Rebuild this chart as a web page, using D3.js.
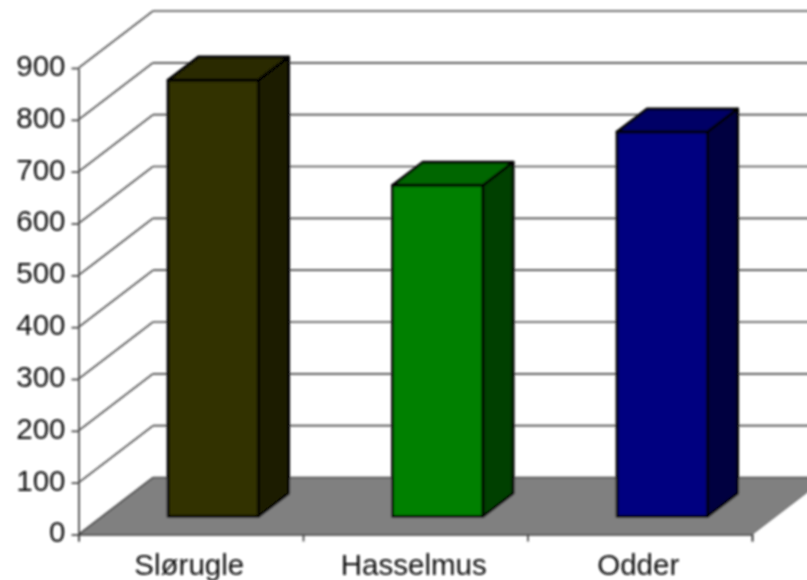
<!DOCTYPE html>
<html><head><meta charset="utf-8">
<script src="https://cdnjs.cloudflare.com/ajax/libs/d3/7.8.5/d3.min.js"></script>
<style>html,body{margin:0;padding:0;background:#fff;overflow:hidden}svg{display:block}</style>
</head><body><svg id="c" width="807" height="580"></svg>
<script>
const categories = ["Slørugle","Hasselmus","Odder"];
const values = [842,639,742];
const yTicks = [0,100,200,300,400,500,600,700,800,900];
const frontColors = ["#333300","#008000","#000080"];
const topColors = ["#292900","#006600","#000066"];
const sideColors = ["#1a1a00","#004000","#000040"];

const svg = d3.select("#c");
const defs = svg.append("defs");
defs.append("filter").attr("id","soft").attr("filterUnits","userSpaceOnUse")
  .attr("x",0).attr("y",0).attr("width",807).attr("height",580)
  .append("feGaussianBlur").attr("stdDeviation",0.8);
const root = svg.append("g").attr("filter","url(#soft)");

const x = d3.scaleBand().domain(categories).range([78.5,752]);
const y = d3.scaleLinear().domain([0,900]).range([534.5,68]);
const depthX = 74.5, depthY = -57;         // full floor depth
const barDepth = [0.316, 0.72];            // bar's front and back, as fractions of the depth
const barW = 90.5;
const line = d3.line();

// floor
root.append("path")
  .attr("d", line([[x.range()[0],y(0)],[x.range()[0]+depthX,y(0)+depthY],[x.range()[1]+depthX,y(0)+depthY],[x.range()[1],y(0)]])+"Z")
  .attr("fill","#808080").attr("stroke","#606060").attr("stroke-width",1);

// gridlines on side and back wall
const side = root.append("g").attr("fill","none").attr("stroke","#202020").attr("stroke-width",1.3);
const back = root.append("g").attr("fill","none").attr("stroke","#484848").attr("stroke-width",1.6);
yTicks.forEach(t=>{
  const x0=x.range()[0];
  side.append("path").attr("d", line([[x0,y(t)],[x0+depthX,y(t)+depthY]]));
  back.append("path").attr("d", line([[x0+depthX,y(t)+depthY],[x.range()[1]+depthX,y(t)+depthY]]));
});

// axes
const axisL = d3.axisLeft(y).tickValues(yTicks).tickSize(7).tickPadding(6).tickSizeOuter(0);
const gy = root.append("g").attr("transform",`translate(${x.range()[0]},0)`).call(axisL);
const xTickScale = d3.scaleLinear().domain([0,3]).range(x.range());
const axisB = d3.axisBottom(xTickScale).tickValues([0,1,2,3]).tickSize(7).tickFormat("");
const gx = root.append("g").attr("transform",`translate(0,${y(0)})`).call(axisB);
[gy,gx].forEach(g=>{
  g.selectAll("path,line").attr("stroke","#404040").attr("stroke-width",1.7);
});
gy.selectAll("text").attr("font-family","'Liberation Sans',Arial,sans-serif").attr("font-size",29.5).attr("fill","#111").attr("dy","0.25em");
root.append("g").selectAll("text").data(categories).join("text")
  .attr("x",d=>x(d)+x.bandwidth()/2-1.5).attr("y",575)
  .attr("text-anchor","middle").attr("font-family","'Liberation Sans',Arial,sans-serif")
  .attr("font-size",29.5).attr("fill","#111").text(d=>d);

// bars
const bars = root.append("g").attr("stroke","#000").attr("stroke-width",2.8).attr("stroke-linejoin","round");
categories.forEach((c,i)=>{
  const cx = x(c)+x.bandwidth()/2-1;
  const fx = cx-barW/2 + depthX*barDepth[0];
  const fdy = depthY*barDepth[0];
  const bdx = depthX*(barDepth[1]-barDepth[0]), bdy = depthY*(barDepth[1]-barDepth[0]);
  const yb = y(0)+fdy, yt = y(values[i])+fdy, xr = fx+barW;
  bars.append("path").attr("fill",frontColors[i]).attr("d",line([[fx,yb],[xr,yb],[xr,yt],[fx,yt]])+"Z");
  bars.append("path").attr("fill",topColors[i]).attr("d",line([[fx,yt],[xr,yt],[xr+bdx,yt+bdy],[fx+bdx,yt+bdy]])+"Z");
  bars.append("path").attr("fill",sideColors[i]).attr("d",line([[xr,yb],[xr+bdx,yb+bdy],[xr+bdx,yt+bdy],[xr,yt]])+"Z");
});
</script></body></html>
